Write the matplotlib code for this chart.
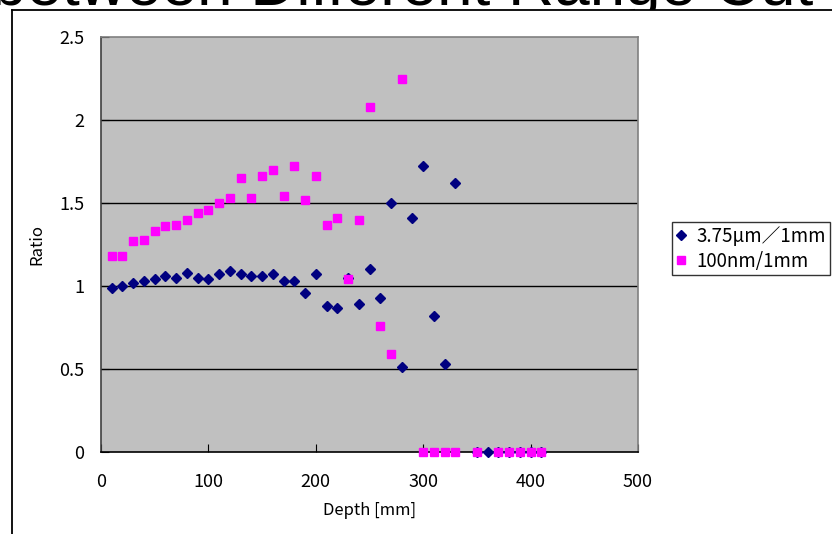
import matplotlib.pyplot as plt
from matplotlib.lines import Line2D
from matplotlib.patches import Rectangle

plt.rcParams['font.family'] = ['Noto Sans CJK JP', 'DejaVu Sans']

# depth [mm] and ratio values
depth_um = [10, 20, 30, 40, 50, 60, 70, 80, 90, 100, 110, 120, 130, 140, 150,
            160, 170, 180, 190, 200, 210, 220, 230, 240, 250, 260, 270, 280,
            290, 300, 310, 320, 330, 350, 360, 370, 380, 390, 400, 410]
ratio_um = [0.99, 1.00, 1.02, 1.03, 1.04, 1.06, 1.05, 1.08, 1.05, 1.04, 1.07,
            1.09, 1.07, 1.06, 1.06, 1.07, 1.03, 1.03, 0.96, 1.07, 0.88, 0.87,
            1.05, 0.89, 1.10, 0.93, 1.50, 0.51, 1.41, 1.72, 0.82, 0.53, 1.62,
            0, 0, 0, 0, 0, 0, 0]

depth_nm = [10, 20, 30, 40, 50, 60, 70, 80, 90, 100, 110, 120, 130, 140, 150,
            160, 170, 180, 190, 200, 210, 220, 230, 240, 250, 260, 270, 280,
            300, 310, 320, 330, 350, 370, 380, 390, 400, 410]
ratio_nm = [1.18, 1.18, 1.27, 1.28, 1.33, 1.36, 1.37, 1.40, 1.44, 1.46, 1.50,
            1.53, 1.65, 1.53, 1.66, 1.70, 1.54, 1.72, 1.52, 1.66, 1.37, 1.41,
            1.04, 1.40, 2.08, 0.76, 0.59, 2.25,
            0, 0, 0, 0, 0, 0, 0, 0, 0, 0]

label_um = '3.75μm／1mm'
label_nm = '100nm/1mm'
title = 'Ratio between Different Range Cut'

W, H = 832, 534
fig = plt.figure(figsize=(W / 100, H / 100), dpi=100)
ax = fig.add_axes([101 / W, 1 - 452 / H, 537 / W, 415 / H])
ax.set_facecolor('#C0C0C0')

# title, mostly cut off at the top like the reference
fig.text(813 / W, 1 - 5 / H, title, ha='right', va='baseline',
         fontsize=46, family=['Liberation Sans', 'DejaVu Sans'], zorder=-2)
# the chart area hides whatever of the title falls below its top border
fig.add_artist(Rectangle((12 / W, 0), 1, 1 - 10 / H, transform=fig.transFigure,
                         facecolor='white', edgecolor='none', zorder=-1))

# outer chart border
fig.add_artist(Line2D([12 / W, 12 / W], [1 - 10 / H, 0], color='black', lw=1.3))
fig.add_artist(Line2D([12 / W, 1], [1 - 10 / H, 1 - 10 / H], color='black', lw=1.3))

for y in [0.5, 1.0, 1.5, 2.0]:
    ax.axhline(y, color='black', lw=1, zorder=1)

ax.plot(depth_um, ratio_um, 'D', color='#000080', ms=5.5, ls='none',
        label=label_um, clip_on=False, zorder=3)
ax.plot(depth_nm, ratio_nm, 's', color='#FF00FF', ms=6, ls='none',
        label=label_nm, clip_on=False, zorder=4)

ax.set_xlim(0, 500)
ax.set_ylim(0, 2.5)
ax.set_xticks([0, 100, 200, 300, 400, 500])
ax.set_yticks([0, 0.5, 1, 1.5, 2, 2.5])
ax.set_yticklabels(['0', '0.5', '1', '1.5', '2', '2.5'])
ax.tick_params(direction='in', length=6, labelsize=13, colors='black')
ax.tick_params(axis='y', pad=12)
ax.tick_params(axis='x', pad=15)

for s in ['top', 'right']:
    ax.spines[s].set_color('#808080')
ax.spines['left'].set_color('#404040')
ax.spines['bottom'].set_color('black')
for s in ax.spines.values():
    s.set_linewidth(1.2)

ax.set_xlabel('Depth [mm]', fontsize=12, labelpad=8)
ax.set_ylabel('Ratio', fontsize=12, labelpad=10)

leg = fig.legend(loc='upper left', bbox_to_anchor=(672 / W, 1 - 222 / H),
                 fontsize=13.5, frameon=True, fancybox=False, handlelength=0.6,
                 handletextpad=0.5, borderpad=0.2, labelspacing=0.2,
                 borderaxespad=0)
leg.get_frame().set_edgecolor('black')
leg.get_frame().set_linewidth(1)

fig.savefig('out.png', dpi=100)
